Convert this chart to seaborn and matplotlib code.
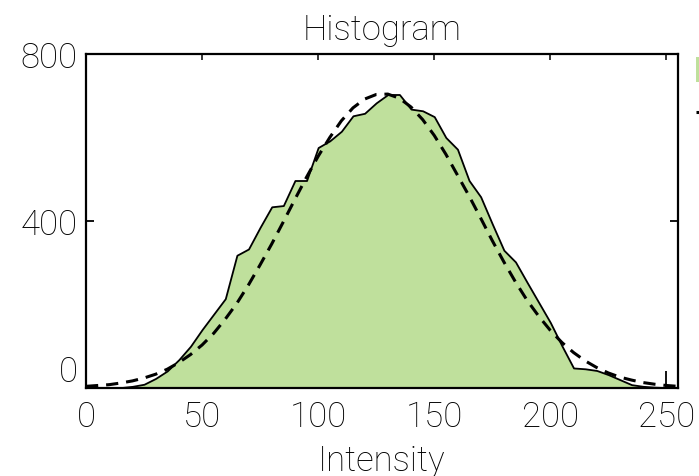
import numpy as np
import pandas as pd
import matplotlib
matplotlib.use("Agg")
import matplotlib.pyplot as plt
import seaborn as sns

# Pixel-intensity histogram (bin centres every 5 levels) and its Gaussian fit
intensity = list(range(0, 256, 5))
counts = [0, 0, 0, 1, 4, 9, 23, 41, 68, 100, 140, 177, 214, 318, 333, 385,
          434, 437, 497, 497, 576, 592, 615, 652, 658, 683, 703, 703, 668,
          664, 650, 600, 572, 497, 458, 393, 330, 302, 253, 205, 157, 101,
          48, 46, 42, 32, 20, 8, 4, 2, 1, 0]
fit = [4, 6, 8, 12, 17, 24, 33, 45, 61, 80, 103, 131, 165, 203, 247, 295,
       345, 398, 452, 505, 555, 600, 640, 671, 692, 703, 704, 694, 673, 643,
       605, 560, 510, 460, 407, 353, 302, 254, 210, 172, 138, 109, 85, 65,
       49, 36, 26, 19, 13, 9, 6, 4]

x_ticks = [0, 50, 100, 150, 200, 250]
y_ticks = [0, 400, 800]

sns.set_theme(style="ticks")
plt.rcParams["font.family"] = ["Roboto", "Liberation Sans", "DejaVu Sans"]
plt.rcParams["font.weight"] = "light"
plt.rcParams["axes.titleweight"] = "light"
plt.rcParams["axes.labelweight"] = "light"
plt.rcParams["text.color"] = "black"
plt.rcParams["axes.labelcolor"] = "black"

FS = 25

hist_df = pd.DataFrame({"intensity": intensity, "count": counts})
fit_df = pd.DataFrame({"intensity": intensity, "fit": fit})

fig = plt.figure(figsize=(6.99, 4.77), dpi=100)
ax = fig.add_axes([86 / 699, 1 - 389 / 477, (678 - 86) / 699, (389 - 55) / 477])

sns.histplot(data=hist_df, x="intensity", weights="count",
             binwidth=5, binrange=(-2.5, 257.5), element="poly", fill=True,
             color="#bfe09c", alpha=1.0, edgecolor="black", linewidth=1.3,
             label="Data", ax=ax)
sns.lineplot(data=fit_df, x="intensity", y="fit", color="black",
             linewidth=2.2, linestyle=(0, (4, 2.6)), label="Gaussian fit",
             ax=ax)

ax.set_xlim(0, 255)
ax.set_ylim(0, 800)
ax.set_xticks(x_ticks)
ax.set_yticks(y_ticks)
ax.set_xlabel("Intensity", fontsize=FS, labelpad=8, color="black",
              fontweight="light")
ax.set_ylabel("")
ax.set_title("Histogram", fontsize=FS, pad=11, color="black",
             fontweight="light")

for side in ["top", "bottom", "left", "right"]:
    ax.spines[side].set_visible(True)
    ax.spines[side].set_linewidth(1.6)
    ax.spines[side].set_color("black")

ax.tick_params(axis="x", direction="in", length=12, width=1.3, pad=8,
               labelsize=FS, colors="black", bottom=True, top=False)
ax.tick_params(axis="y", direction="in", length=6, width=1.3, pad=6,
               labelsize=FS, colors="black", left=True, right=True)

# the zero label on the count axis sits above the baseline
ax.get_yticklabels()[0].set_verticalalignment("bottom")

# short ticks along the top edge
top = ax.secondary_xaxis("top")
top.set_xticks(x_ticks)
top.tick_params(direction="in", length=4, width=1.3, labeltop=False)
top.spines["top"].set_visible(False)

leg = ax.legend(loc="upper left", bbox_to_anchor=(696 / 699, 1 - 56 / 477),
                bbox_transform=fig.transFigure, frameon=False, fontsize=FS,
                borderaxespad=0, borderpad=0, labelspacing=0.25,
                handlelength=1.2, handleheight=0.7)
for patch in leg.get_patches():
    patch.set_edgecolor("none")

fig.savefig("out.png", dpi=100)
